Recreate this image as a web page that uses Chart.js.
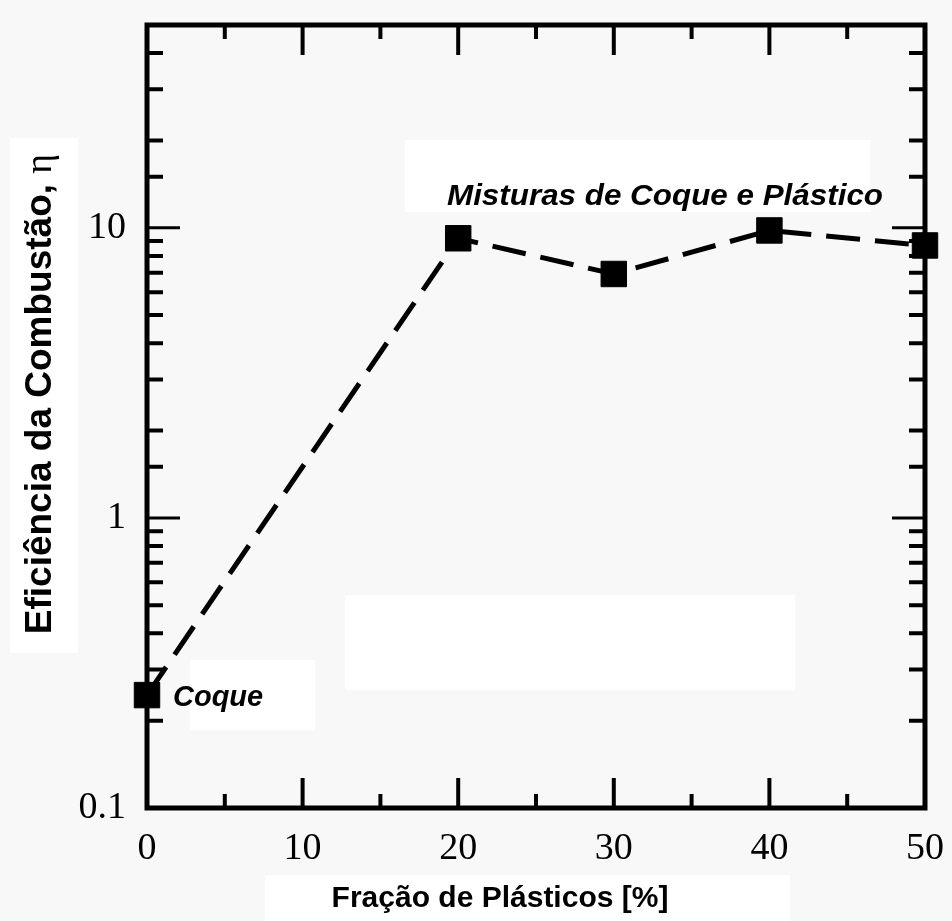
<!DOCTYPE html>
<html lang="pt">
  <head>
    <meta charset="UTF-8" />
    <title>Eficiência da Combustão</title>
    <script src="https://cdn.jsdelivr.net/npm/chart.js"></script>
    <style>
      * {
        margin: 0;
        padding: 0;
        box-sizing: border-box;
      }
      body {
        background-color: #f8f8f8;
      }
      .chart-box {
        width: 952px;
        height: 921px;
      }
    </style>
  </head>
  <body>
    <div class="chart-box">
      <canvas id="chart"></canvas>
    </div>

    <script>
      // dados
      var fracaoPlastico = [0, 20, 30, 40, 50];
      var eficiencia = [0.245, 9.2, 6.93, 9.79, 8.69];
      var xTickLabels = [0, 10, 20, 30, 40, 50];
      var yTickLabels = [0.1, 1, 10];

      var isDecade = function (v) {
        var l = Math.log10(v);
        return Math.abs(l - Math.round(l)) < 1e-6;
      };

      // fundo com as manchas brancas do original
      var fundo = {
        id: "fundo",
        beforeDraw: function (chart) {
          var ctx = chart.ctx;
          ctx.save();
          ctx.fillStyle = "#f8f8f8";
          ctx.fillRect(0, 0, chart.width, chart.height);
          ctx.fillStyle = "#ffffff";
          ctx.fillRect(405, 140, 465, 72);
          ctx.fillRect(345, 595, 450, 95);
          ctx.fillRect(190, 660, 125, 70);
          ctx.fillRect(10, 138, 68, 515);
          ctx.fillRect(265, 875, 525, 46);
          ctx.restore();
        },
      };

      // moldura, marcas para dentro e textos
      var moldura = {
        id: "moldura",
        afterDraw: function (chart) {
          var ctx = chart.ctx;
          var a = chart.chartArea;
          var xs = chart.scales.x;
          var ys = chart.scales.y;
          ctx.save();
          ctx.strokeStyle = "#000";
          ctx.lineCap = "butt";

          ctx.lineWidth = 4;
          xs.ticks.forEach(function (t) {
            var px = xs.getPixelForValue(t.value);
            var len = t.value % 10 === 0 ? 30 : 14;
            ctx.beginPath();
            ctx.moveTo(px, a.bottom);
            ctx.lineTo(px, a.bottom - len);
            ctx.moveTo(px, a.top);
            ctx.lineTo(px, a.top + len);
            ctx.stroke();
          });
          ys.ticks.forEach(function (t) {
            var py = ys.getPixelForValue(t.value);
            var len = isDecade(t.value) ? 33 : 16;
            ctx.lineWidth = isDecade(t.value) ? 3 : 4;
            ctx.beginPath();
            ctx.moveTo(a.left, py);
            ctx.lineTo(a.left + len, py);
            ctx.moveTo(a.right, py);
            ctx.lineTo(a.right - len, py);
            ctx.stroke();
          });

          ctx.lineWidth = 5;
          ctx.strokeRect(a.left, a.top, a.right - a.left, a.bottom - a.top);

          ctx.fillStyle = "#000";
          ctx.textBaseline = "alphabetic";

          // título do eixo x
          ctx.font = "bold 30px 'Liberation Sans', Arial, sans-serif";
          ctx.textAlign = "center";
          ctx.fillText("Fração de Plásticos [%]", 500, 907);

          // título do eixo y
          ctx.save();
          ctx.translate(51, 394);
          ctx.rotate(-Math.PI / 2);
          var t1 = "Eficiência da Combustão, ";
          ctx.font = "bold 37px 'Liberation Sans', Arial, sans-serif";
          var w1 = ctx.measureText(t1).width;
          ctx.font = "38px 'Liberation Serif', serif";
          var w2 = ctx.measureText("η").width;
          ctx.textAlign = "left";
          ctx.font = "bold 37px 'Liberation Sans', Arial, sans-serif";
          ctx.fillText(t1, -(w1 + w2) / 2, 0);
          ctx.font = "38px 'Liberation Serif', serif";
          ctx.fillText("η", -(w1 + w2) / 2 + w1, 0);
          ctx.restore();

          // anotações
          ctx.font = "italic bold 29px 'Liberation Sans', Arial, sans-serif";
          ctx.textAlign = "left";
          var txt = "Misturas de Coque e Plástico";
          var sx = 436 / ctx.measureText(txt).width;
          ctx.save();
          ctx.translate(447, 205);
          ctx.scale(sx, 1);
          ctx.fillText(txt, 0, 0);
          ctx.restore();
          ctx.fillText("Coque", 173, 706);

          ctx.restore();
        },
      };

      new Chart(document.getElementById("chart").getContext("2d"), {
        type: "line",
        data: {
          datasets: [
            {
              data: fracaoPlastico.map(function (x, i) {
                return { x: x, y: eficiencia[i] };
              }),
              borderColor: "#000",
              backgroundColor: "#000",
              borderWidth: 5,
              borderDash: [34, 15],
              tension: 0,
              pointStyle: "rect",
              pointRadius: 18,
              pointBorderWidth: 1,
              pointBackgroundColor: "#000",
              clip: false,
            },
          ],
        },
        options: {
          responsive: true,
          maintainAspectRatio: false,
          animation: false,
          layout: { padding: { top: 25, right: 27, left: 0, bottom: 0 } },
          plugins: {
            legend: { display: false },
            tooltip: { enabled: false },
          },
          scales: {
            x: {
              type: "linear",
              min: 0,
              max: 50,
              grid: { display: false, drawTicks: false },
              border: { display: false },
              ticks: {
                stepSize: 5,
                autoSkip: false,
                maxRotation: 0,
                padding: 18,
                color: "#000",
                font: { family: "'Liberation Serif', 'Times New Roman', serif", size: 38 },
                callback: function (v) {
                  return xTickLabels.indexOf(v) >= 0 ? String(v) : "";
                },
              },
              afterFit: function (s) {
                s.height = 113;
                s.paddingLeft = 0;
                s.paddingRight = 0;
              },
            },
            y: {
              type: "logarithmic",
              min: 0.1,
              max: 50,
              grid: { display: false, drawTicks: false },
              border: { display: false },
              ticks: {
                autoSkip: false,
                padding: 21,
                color: "#000",
                font: { family: "'Liberation Serif', 'Times New Roman', serif", size: 38 },
                callback: function (v) {
                  for (var i = 0; i < yTickLabels.length; i++) {
                    if (Math.abs(v - yTickLabels[i]) < 1e-9) return String(yTickLabels[i]);
                  }
                  return "";
                },
              },
              afterFit: function (s) {
                s.width = 147;
                s.paddingTop = 0;
                s.paddingBottom = 0;
              },
            },
          },
        },
        plugins: [fundo, moldura],
      });
    </script>
  </body>
</html>
